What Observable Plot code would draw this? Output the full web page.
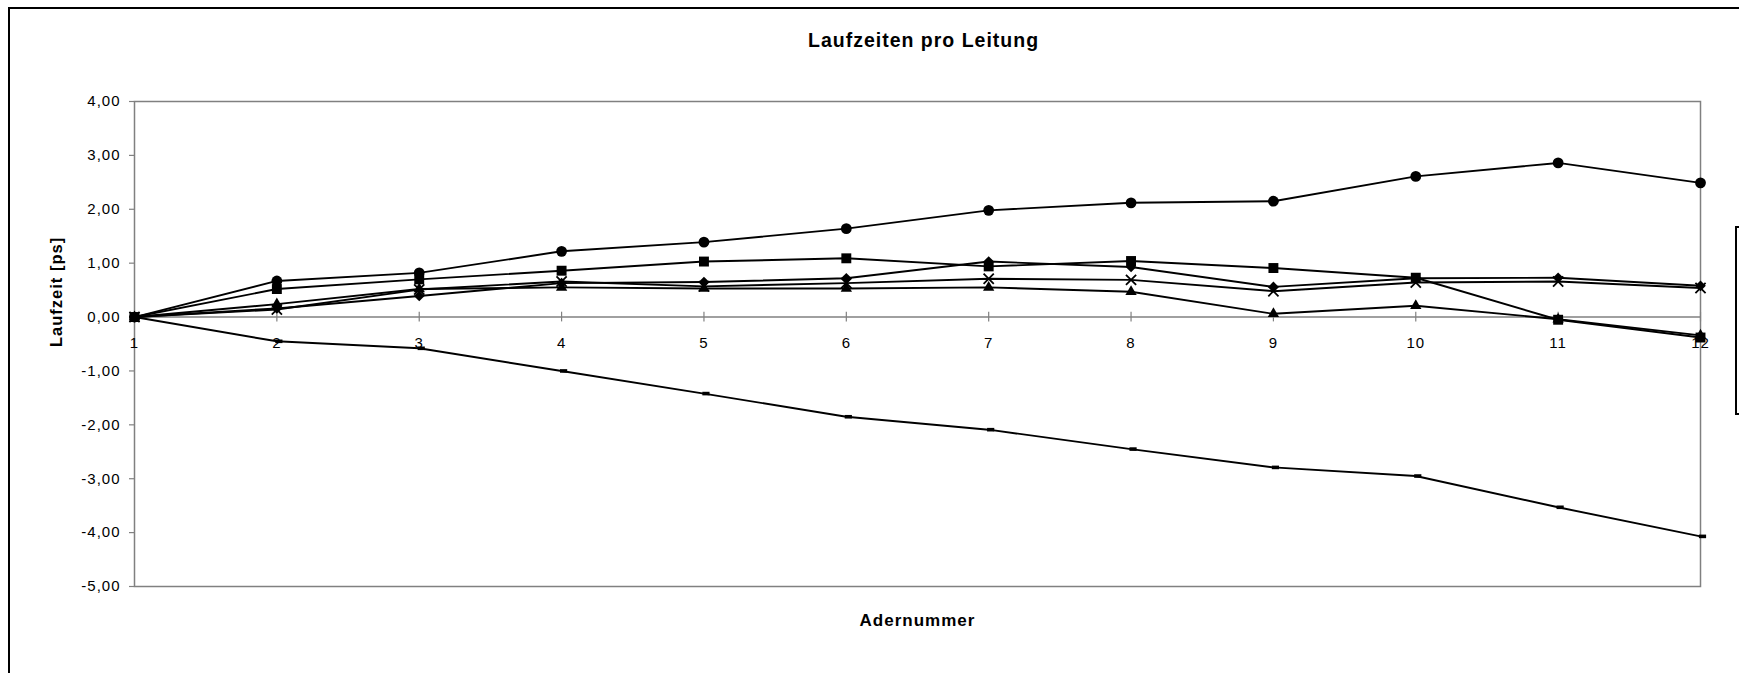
<!DOCTYPE html>
<html><head><meta charset="utf-8">
<script src="https://cdn.jsdelivr.net/npm/d3@7"></script>
<script src="https://cdn.jsdelivr.net/npm/@observablehq/plot@0.6"></script>
<style>
html,body{margin:0;padding:0;background:#fff;overflow:hidden;width:1739px;height:673px;}
#frame{position:absolute;left:8px;top:7px;width:1900px;height:900px;border:2px solid #000;box-sizing:border-box;}
#legend{position:absolute;left:1735px;top:226px;width:200px;height:189px;border:2px solid #000;box-sizing:border-box;}
#chart{position:absolute;left:0;top:0;}
</style></head><body>
<div id="frame"></div><div id="legend"></div><div id="chart"></div>
<script>
// Data
const adern = [1, 2, 3, 4, 5, 6, 7, 8, 9, 10, 11, 12];
const kreis    = [0, 0.67, 0.82, 1.22, 1.39, 1.64, 1.98, 2.12, 2.15, 2.61, 2.86, 2.49];
const quadrat  = [0, 0.52, 0.70, 0.86, 1.03, 1.09, 0.94, 1.04, 0.91, 0.73, -0.05, -0.38];
const raute    = [0, 0.16, 0.39, 0.63, 0.65, 0.72, 1.03, 0.93, 0.56, 0.72, 0.73, 0.58];
const kreuz    = [0, 0.14, 0.51, 0.66, 0.57, 0.63, 0.71, 0.69, 0.48, 0.64, 0.66, 0.54];
const dreieck  = [0, 0.24, 0.52, 0.55, 0.53, 0.53, 0.55, 0.47, 0.06, 0.21, -0.04, -0.34];
const strich   = [0, -0.45, -0.58, -1.00, -1.42, -1.85, -2.09, -2.45, -2.79, -2.95, -3.53, -4.07];
const seriesNames = ["Kreis", "Raute", "Kreuz", "Dreieck", "Strich", "Quadrat"];
const yTicks = [-5, -4, -3, -2, -1, 0, 1, 2, 3, 4];
const xTicks = adern;
const titleText = "Laufzeiten pro Leitung";
const xLabel = "Adernummer";
const yLabel = "Laufzeit [ps]";

const dashSymbol = {draw(ctx) { const w = 3.6, h = 1.8; ctx.moveTo(-w, -h); ctx.lineTo(w, -h); ctx.lineTo(w, h); ctx.lineTo(-w, h); ctx.closePath(); }};

const series = [
  {name: seriesNames[0], values: kreis,   symbol: "circle",   r: 5.4, fill: "black", stroke: "none"},
  {name: seriesNames[1], values: raute,   symbol: "diamond2", r: 4.8, fill: "black", stroke: "none"},
  {name: seriesNames[2], values: kreuz,   symbol: "times",    r: 4.7, fill: "none",  stroke: "black"},
  {name: seriesNames[3], values: dreieck, symbol: "triangle", r: 4.2, fill: "black", stroke: "none"},
  {name: seriesNames[4], values: strich,  symbol: dashSymbol, r: 4,   fill: "black", stroke: "none"},
  {name: seriesNames[5], values: quadrat, symbol: "square",   r: 5.6, fill: "black", stroke: "none"}
];
const rows = series.flatMap(s => s.values.map((v, i) => ({serie: s.name, x: adern[i], y: v})));
const fmt = d => d.toFixed(2).replace(".", ",");

const dotMarks = series.map(s => Plot.dot(rows.filter(d => d.serie === s.name), {
  x: "x", y: "y", symbol: s.symbol, r: s.r, fill: s.fill, stroke: s.stroke, strokeWidth: 1.8,
  dx: s.name === "Strich" ? 2 : 0
}));

const chart = Plot.plot({
  width: 1739,
  height: 673,
  marginLeft: 134,
  marginRight: 39,
  marginTop: 101,
  marginBottom: 87,
  style: {fontFamily: "'Liberation Sans', Arial, sans-serif", fontSize: "15px", background: "transparent", letterSpacing: "1px", color: "black"},
  x: {domain: [1, 12], axis: null},
  y: {domain: [-5, 4], axis: null},
  marks: [
    Plot.frame({stroke: "#808080", strokeWidth: 1.5}),
    Plot.ruleY([0], {stroke: "#808080", strokeWidth: 1.5}),
    Plot.ruleX(xTicks, {x: d => d, y1: -0.09, y2: 0.09, stroke: "#808080", strokeWidth: 1.2}),
    Plot.text(xTicks, {x: d => d, y: 0, dy: 26, text: d => String(d), fontSize: 15, fill: "black"}),
    Plot.axisY(yTicks, {tickFormat: fmt, tickSize: 5, tickPadding: 9, fontSize: 15, stroke: "#808080", strokeWidth: 1.2, label: null}),
    Plot.line(rows, {x: "x", y: "y", z: "serie", stroke: "black", strokeWidth: 1.9}),
    ...dotMarks,
    Plot.text([titleText], {frameAnchor: "top", lineAnchor: "bottom", dy: -55, dx: 6, fontSize: 19.5, fontWeight: "bold", fill: "black"}),
    Plot.text([xLabel], {frameAnchor: "bottom", lineAnchor: "bottom", dy: 39, fontSize: 17, fontWeight: "bold", fill: "black"}),
    Plot.text([yLabel], {frameAnchor: "left", rotate: -90, dx: -78, dy: 3, fontSize: 16.5, fontWeight: "bold", fill: "black"})
  ]
});
document.getElementById("chart").appendChild(chart);
</script>
</body></html>
